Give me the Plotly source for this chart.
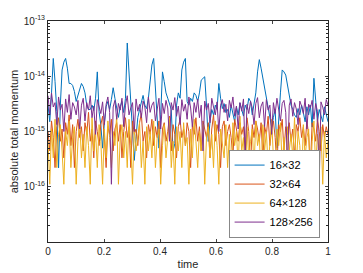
import numpy as np
import plotly.graph_objects as go

# units: blue in 1e-15, others in multiples of EPS
EPS = 1.11e-16

names = ["16×32", "32×64", "64×128", "128×256"]
colors = ["#0072BD", "#D95319", "#EDB120", "#7E2F8E"]

blue_e15 = [3, 1.5, 5, 21, 8, 2.3, 0.22, 3, 13, 18,
            21, 14, 7.4, 7.4, 6.8, 5.3, 3.5, 4.5, 6.3, 7.4,
            6.5, 5, 3, 2.5, 2.5, 3.0, 2.4, 4, 12, 2.3,
            1.3, 0.5, 1.4, 2.8, 3.5, 2.5, 3.8, 6.2, 4, 2.5,
            1.8, 2.8, 3.5, 2.2, 4, 40, 12, 3, 1.5, 0.3,
            0.8, 1.8, 2.5, 3.5, 4.5, 3, 2.6, 4, 9, 16,
            21, 5, 1.5, 0.5, 2, 12, 8, 5, 4, 3.3,
            2.5, 0.44, 0.6, 3, 5, 4, 13, 18, 21, 3.5,
            3, 4, 3.5, 5, 4.5, 3.5, 5, 8.5, 9, 9.8,
            3, 0.66, 1.5, 2.5, 2, 3, 2.5, 7.4, 4, 2.6,
            3.2, 2.2, 2.5, 1.8, 3, 2.2, 1.5, 2.8, 2, 3.3,
            2.4, 1.9, 3, 2.5, 4, 3.5, 2, 3, 5, 12,
            20, 14, 9.2, 6.5, 4.6, 3, 2, 1.2, 1.8, 2.5,
            0.5, 2, 5, 13, 12, 10.5, 7, 5.1, 3, 2.5,
            2, 1.8, 2.6, 2, 3, 2.2, 1.5, 2.8, 2, 3,
            1.2, 9.2, 4, 1.5, 2.5, 2, 1.5, 2.8, 2, 1.5]

orange_k = [9, 4, 14, 7, 2, 11, 16, 6, 10, 3, 13, 8, 18, 5, 12, 2, 9, 15, 7, 11,
            4, 13, 8, 20, 6, 10, 3, 14, 9, 5, 12, 17, 7, 2, 11, 8, 15, 4, 10, 13,
            6, 12, 3, 9, 16, 7, 11, 2, 14, 8, 10, 5, 13, 19, 6, 9, 3, 12, 8, 15,
            5, 11, 7, 14, 2, 10, 13, 6, 9, 17, 4, 12, 8, 3, 11, 15, 7, 10, 5, 13,
            9, 2, 12, 8, 16, 6, 11, 4, 14, 9, 7, 13, 3, 10, 18, 6, 12, 8, 2, 11,
            14, 5, 9, 12, 7, 3, 15, 10, 6, 13, 8, 11, 4, 16, 9, 2, 12, 7, 14, 10,
            6, 13, 3, 11, 8, 17, 5, 10, 14, 7, 2, 12, 9, 15, 4, 11, 8, 13, 6, 10,
            3, 12, 9, 16, 7, 11, 5, 14, 8, 2, 13, 10, 6, 15, 9, 4, 12, 7, 11, 8]

yellow_k = [6, 1, 10, 3, 15, 2, 8, 12, 4, 1, 9, 5, 14, 2, 7, 11, 1, 6, 13, 3,
            8, 2, 11, 5, 1, 16, 4, 9, 2, 12, 6, 1, 10, 3, 14, 7, 2, 9, 5, 18,
            1, 7, 12, 3, 9, 2, 15, 5, 1, 10, 4, 8, 13, 2, 6, 1, 11, 4, 9, 3,
            14, 2, 7, 10, 1, 5, 12, 3, 8, 16, 2, 6, 1, 11, 4, 9, 2, 13, 5, 7,
            1, 10, 3, 15, 6, 2, 9, 4, 12, 1, 7, 11, 3, 8, 2, 14, 5, 1, 10, 6,
            3, 12, 2, 8, 1, 13, 5, 9, 2, 17, 4, 7, 1, 11, 3, 6, 10, 2, 14, 5,
            8, 1, 12, 4, 9, 2, 6, 15, 3, 1, 10, 5, 13, 2, 7, 1, 11, 4, 8, 3,
            16, 2, 9, 5, 1, 12, 3, 7, 10, 1, 6, 14, 2, 8, 4, 11, 1, 9, 3, 6]

purple_k = [40, 18, 45, 25, 30, 12, 38, 22, 28, 9, 35, 20, 42, 15, 30, 25, 18, 33, 10, 27,
            36, 14, 30, 22, 40, 16, 26, 8, 34, 24, 19, 31, 12, 28, 38, 20, 1, 25, 33, 15,
            29, 22, 36, 11, 27, 40, 18, 24, 30, 9, 35, 21, 28, 16, 32, 25, 13, 38, 20, 27,
            31, 14, 23, 36, 10, 29, 19, 33, 24, 6, 30, 22, 37, 17, 26, 12, 34, 21, 28, 15,
            38, 24, 11, 30, 20, 35, 16, 27, 4, 32, 22, 29, 13, 36, 25, 18, 31, 9, 27, 34,
            20, 28, 14, 33, 24, 38, 17, 26, 10, 30, 21, 35, 3, 28, 19, 32, 24, 12, 29, 37,
            16, 26, 31, 11, 34, 22, 27, 8, 30, 19, 36, 24, 14, 29, 33, 20, 2, 27, 35, 17,
            30, 23, 12, 32, 26, 19, 36, 10, 28, 24, 33, 15, 29, 21, 1, 31, 25, 18, 34, 27]

ytick_vals = [1e-16, 1e-15, 1e-14, 1e-13]
ytick_text = ["10<sup>-16</sup>", "10<sup>-15</sup>", "10<sup>-14</sup>", "10<sup>-13</sup>"]
xtick_vals = [0, 0.2, 0.4, 0.6, 0.8, 1]
xtick_text = ["0", "0.2", "0.4", "0.6", "0.8", "1"]

series = [np.array(blue_e15) * 1e-15,
          np.array(orange_k) * EPS,
          np.array(yellow_k) * EPS,
          np.array(purple_k) * EPS]

fig = go.Figure()
for name, col, vals in zip(names, colors, series):
    t = np.linspace(0, 1, len(vals))
    fig.add_trace(go.Scatter(x=t, y=vals, mode="lines", name=name,
                             line=dict(color=col, width=1)))

axcol = "#262626"
fig.update_layout(
    width=363, height=273,
    margin=dict(l=48, r=35, t=21, b=31),
    paper_bgcolor="white", plot_bgcolor="white",
    font=dict(family="Liberation Sans, Arial, sans-serif", size=10, color=axcol),
    showlegend=True,
    legend=dict(x=0.97, y=0.02, xanchor="right", yanchor="bottom",
                bgcolor="white", bordercolor="#888888", borderwidth=1,
                font=dict(size=11, color="black"), tracegroupgap=0,
                itemwidth=30),
)
fig.update_xaxes(range=[0, 1], tickvals=xtick_vals, ticktext=xtick_text,
                 ticks="inside", ticklen=3, showline=True, linecolor=axcol,
                 linewidth=1, mirror="ticks", showgrid=False, zeroline=False,
                 automargin=False,
                 title=dict(text="time", standoff=4, font=dict(size=11)))
fig.update_yaxes(type="log", range=[-17, -13], tickvals=ytick_vals, ticktext=ytick_text,
                 ticks="inside", ticklen=3, showline=True, linecolor=axcol,
                 linewidth=1, mirror="ticks", showgrid=False, zeroline=False,
                 automargin=False,
                 minor=dict(ticks="inside", ticklen=2, dtick="D1", showgrid=False, tickcolor=axcol),
                 title=dict(text="absolute total momentum", standoff=2, font=dict(size=11)))

fig.write_html("out.html", config={"displayModeBar": False},
               post_script="document.body.style.margin='0';")
